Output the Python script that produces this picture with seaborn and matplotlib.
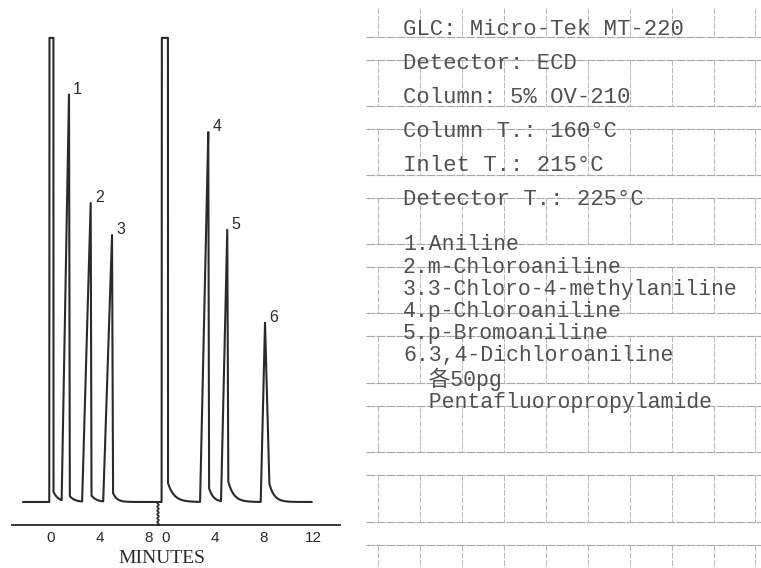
import numpy as np
import pandas as pd
import seaborn as sns
import matplotlib.pyplot as plt

# --- data -----------------------------------------------------------------
# each run: solvent front first, then the numbered peaks
# rt = apex time (min), height in % of full scale (solvent is off scale),
# rise / fall = time of leading / trailing edge, tail = level after the drop, tau = tail decay (min)
run1_rt = [0.18, 1.47, 3.24, 4.98]
run1_height = [3000, 87.7, 64.4, 57.5]
run1_rise = [0.32, 0.60, 0.70, 0.72]
run1_fall = [0.02, 0.06, 0.06, 0.08]
run1_tail = [2.2, 1.2, 1.4, 1.9]
run1_tau = [0.39, 0.40, 0.40, 0.32]
run1_span = [-2.29, 8.73]
run1_labels = ["", "1", "2", "3"]

run2_rt = [0.14, 3.45, 5.00, 8.08]
run2_height = [3000, 79.7, 58.6, 38.6]
run2_rise = [0.50, 0.67, 0.51, 0.35]
run2_fall = [0.02, 0.06, 0.08, 0.35]
run2_tail = [4.1, 3.0, 4.4, 4.0]
run2_tau = [0.50, 0.35, 0.45, 0.40]
run2_span = [-0.65, 11.9]
run2_labels = ["", "4", "5", "6"]

run1_ticks = [0, 4, 8]
run2_ticks = [0, 4, 8, 12]

conditions = [
    "GLC: Micro-Tek MT-220",
    "Detector: ECD",
    "Column: 5% OV-210",
    "Column T.: 160°C",
    "Inlet T.: 215°C",
    "Detector T.: 225°C",
]
compounds = [
    "1.Aniline",
    "2.m-Chloroaniline",
    "3.3-Chloro-4-methylaniline",
    "4.p-Chloroaniline",
    "5.p-Bromoaniline",
    "6.3,4-Dichloroaniline",
    "  各50pg",
    "  Pentafluoropropylamide",
]


def chromatogram(span, rt, height, rise, fall, tail, tau):
    t = np.arange(span[0], span[1], 0.004)
    t = np.union1d(t, np.r_[rt, np.subtract(rt, rise), np.add(rt, fall), span[1]])
    t = t[(t >= span[0]) & (t <= span[1])]
    y = np.zeros_like(t)
    for r, h, a, f, k, s in zip(rt, height, rise, fall, tail, tau):
        up = (t >= r - a) & (t < r)
        y[up] += h * (t[up] - (r - a)) / a
        down = (t >= r) & (t < r + f)
        y[down] += h + (k - h) * (t[down] - r) / f
        after = t >= r + f
        y[after] += k * np.exp(-(t[after] - r - f) / s)
    # recorder pen clips at full scale
    y = np.minimum(y, 100)
    return pd.DataFrame({"minutes": t, "response": y})


df1 = chromatogram(run1_span, run1_rt, run1_height, run1_rise, run1_fall, run1_tail, run1_tau)
df2 = chromatogram(run2_span, run2_rt, run2_height, run2_rise, run2_fall, run2_tail, run2_tau)

sns.set_style("white")
plt.rcParams["font.family"] = ["Liberation Sans", "DejaVu Sans"]

ink = "#2a2a2a"
paper_ink = "#505050"
W, H = 761, 568
fig = plt.figure(figsize=(W / 100, H / 100), dpi=100)


def px_axes(x0, y0, x1, y1, **kw):
    return fig.add_axes([x0 / W, 1 - y1 / H, (x1 - x0) / W, (y1 - y0) / H], **kw)


# background "form" with the ruled grid and the typed notes (pixel coordinates)
bg = px_axes(0, 0, W, H, zorder=-1)
bg.set_xlim(0, W)
bg.set_ylim(H, 0)
bg.axis("off")

rows = [37, 106, 175, 244, 313, 383, 452, 522]
cols = [378, 420, 462, 504, 546, 588, 630, 672, 714, 755]
for r in rows:
    bg.hlines([r, r + 23], 366, W, color="0.66", lw=0.8, linestyles=(0, (8, 1)))
bands = [(8, 37)] + [(r + 23, r2) for r, r2 in zip(rows[:-1], rows[1:])] + [(rows[-1] + 23, H)]
for b0, b1 in bands:
    bg.vlines(cols, b0, b1, color="0.72", lw=0.7, linestyles=(0, (6, 1.5)))

for i, line in enumerate(conditions):
    bg.text(403, 35 + 34 * i, line, family=["Liberation Mono", "Noto Sans CJK SC"],
            fontsize=16, color=paper_ink, va="baseline", ha="left")
comp_base = [250, 273, 295, 317, 339, 361, 386, 408]
for y, line in zip(comp_base, compounds):
    bg.text(403, y, line, family=["Liberation Mono", "Noto Sans CJK SC"],
            fontsize=15.5, color=paper_ink, va="baseline", ha="left")

bg.text(162, 563, "MINUTES", family=["Liberation Serif", "DejaVu Serif"],
        fontsize=14, color=ink, ha="center", va="baseline")

# the two runs, same time scale, joined by a broken baseline
ax1 = px_axes(12, 30, 158, 525)
ax2 = px_axes(158, 30, 340, 525)
panels = [
    (ax1, df1, [-3.18, 8.73], run1_ticks, run1_rt, run1_height, run1_labels),
    (ax2, df2, [-0.653, 14.2], run2_ticks, run2_rt, run2_height, run2_labels),
]
for ax, df, lim, ticks, rt, height, labels in panels:
    sns.lineplot(data=df, x="minutes", y="response", ax=ax, color=ink, lw=1.5,
                 estimator=None, sort=False)
    ax.set_xlim(lim)
    ax.set_ylim(-4.96, 101.7)
    ax.set_xticks(ticks)
    ax.set_yticks([])
    ax.set_xlabel("")
    ax.set_ylabel("")
    ax.patch.set_alpha(0)
    for s in ["left", "right", "top"]:
        ax.spines[s].set_visible(False)
    ax.spines["bottom"].set_linewidth(1.3)
    ax.spines["bottom"].set_color(ink)
    ax.tick_params(axis="x", direction="in", length=3.5, width=1.2, pad=4,
                   labelsize=11, colors=ink)
    for r, h, lab in zip(rt, height, labels):
        if lab:
            ax.annotate(lab, (r, h), xytext=(3, -1.5), textcoords="offset points",
                        ha="left", va="bottom", fontsize=11.5, color=ink)

# wavy break mark between the runs
wy = np.linspace(0, -4.96, 80)
wx = run1_span[1] + 0.07 * np.sin(wy / 4.96 * 12 * np.pi)
ax1.plot(wx, wy, color=ink, lw=1.2, clip_on=False)

fig.savefig("out.png", dpi=100)
